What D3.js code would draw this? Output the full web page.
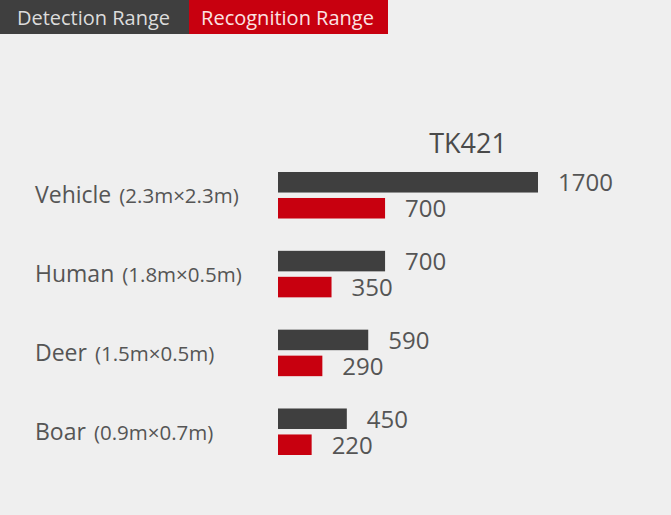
<!DOCTYPE html>
<html>
<head>
<meta charset="utf-8">
<script src="https://cdn.jsdelivr.net/npm/d3@7"></script>
<style>
  html, body { margin: 0; padding: 0; background: #efefef; }
  svg { display: block; font-family: "Open Sans", sans-serif; }
</style>
</head>
<body>
<div id="chart"></div>
<script>
// Chart data
var categories = ["Vehicle", "Human", "Deer", "Boar"];
var sizes = ["(2.3m\u00d72.3m)", "(1.8m\u00d70.5m)", "(1.5m\u00d70.5m)", "(0.9m\u00d70.7m)"];
var seriesNames = ["Detection Range", "Recognition Range"];
var detection = [1700, 700, 590, 450];
var recognition = [700, 350, 290, 220];
var title = "TK421";

var colors = ["#3f3f3f", "#c8000f"];
var width = 671, height = 515;

var svg = d3.select("#chart")
    .append("svg")
    .attr("width", width)
    .attr("height", height);

svg.append("rect")
    .attr("width", width)
    .attr("height", height)
    .attr("fill", "#efefef");

// legend boxes along the top (the two boxes are not quite the same width)
var legendEdges = [0, 189, 388];

var legend = svg.selectAll("g.legend")
    .data(seriesNames)
    .enter()
    .append("g")
    .attr("class", "legend")
    .attr("transform", function(d, i) { return "translate(" + legendEdges[i] + ",0)"; });

legend.append("rect")
    .attr("width", function(d, i) { return legendEdges[i + 1] - legendEdges[i]; })
    .attr("height", 34)
    .attr("fill", function(d, i) { return colors[i]; });

legend.append("text")
    .attr("x", function(d, i) { return (legendEdges[i + 1] - legendEdges[i]) / 2 - 1; })
    .attr("y", 25)
    .attr("text-anchor", "middle")
    .attr("font-size", 20)
    .attr("fill", function(d, i) { return i === 0 ? "#dcdcdc" : "#fbe3e3"; })
    .text(function(d) { return d; });

// scales
var x = d3.scaleLinear()
    .domain([0, d3.max(detection)])
    .range([278, 538]);

var y = d3.scaleBand()
    .domain(categories)
    .range([172, 455])
    .paddingInner(0.41);

var ySeries = d3.scaleBand()
    .domain([0, 1])
    .range([0, y.bandwidth()])
    .paddingInner(0.21);

svg.append("text")
    .attr("x", 468)
    .attr("y", 153)
    .attr("text-anchor", "middle")
    .attr("font-size", 27)
    .attr("fill", "#4a4a4a")
    .text(title);

var rows = categories.map(function(c, i) {
    return { name: c, size: sizes[i], values: [detection[i], recognition[i]] };
});

var group = svg.selectAll("g.row")
    .data(rows)
    .enter()
    .append("g")
    .attr("class", "row")
    .attr("transform", function(d) { return "translate(0," + y(d.name) + ")"; });

// category label with the target size in smaller type
var label = group.append("text")
    .attr("x", 35)
    .attr("y", y.bandwidth() / 2 + 8)
    .attr("fill", "#555");

label.append("tspan")
    .attr("font-size", 23)
    .text(function(d) { return d.name; });

label.append("tspan")
    .attr("dx", 8)
    .attr("font-size", 20.5)
    .text(function(d) { return d.size; });

var bars = group.selectAll("g.bar")
    .data(function(d) { return d.values; })
    .enter()
    .append("g")
    .attr("class", "bar")
    .attr("transform", function(d, i) { return "translate(0," + ySeries(i) + ")"; });

bars.append("rect")
    .attr("x", x(0))
    .attr("width", function(d) { return x(d) - x(0); })
    .attr("height", ySeries.bandwidth())
    .attr("fill", function(d, i) { return colors[i]; });

bars.append("text")
    .attr("x", function(d) { return x(d) + 20; })
    .attr("y", ySeries.bandwidth() / 2 + 9)
    .attr("font-size", 24)
    .attr("fill", "#555")
    .text(function(d) { return d; });
</script>
</body>
</html>
